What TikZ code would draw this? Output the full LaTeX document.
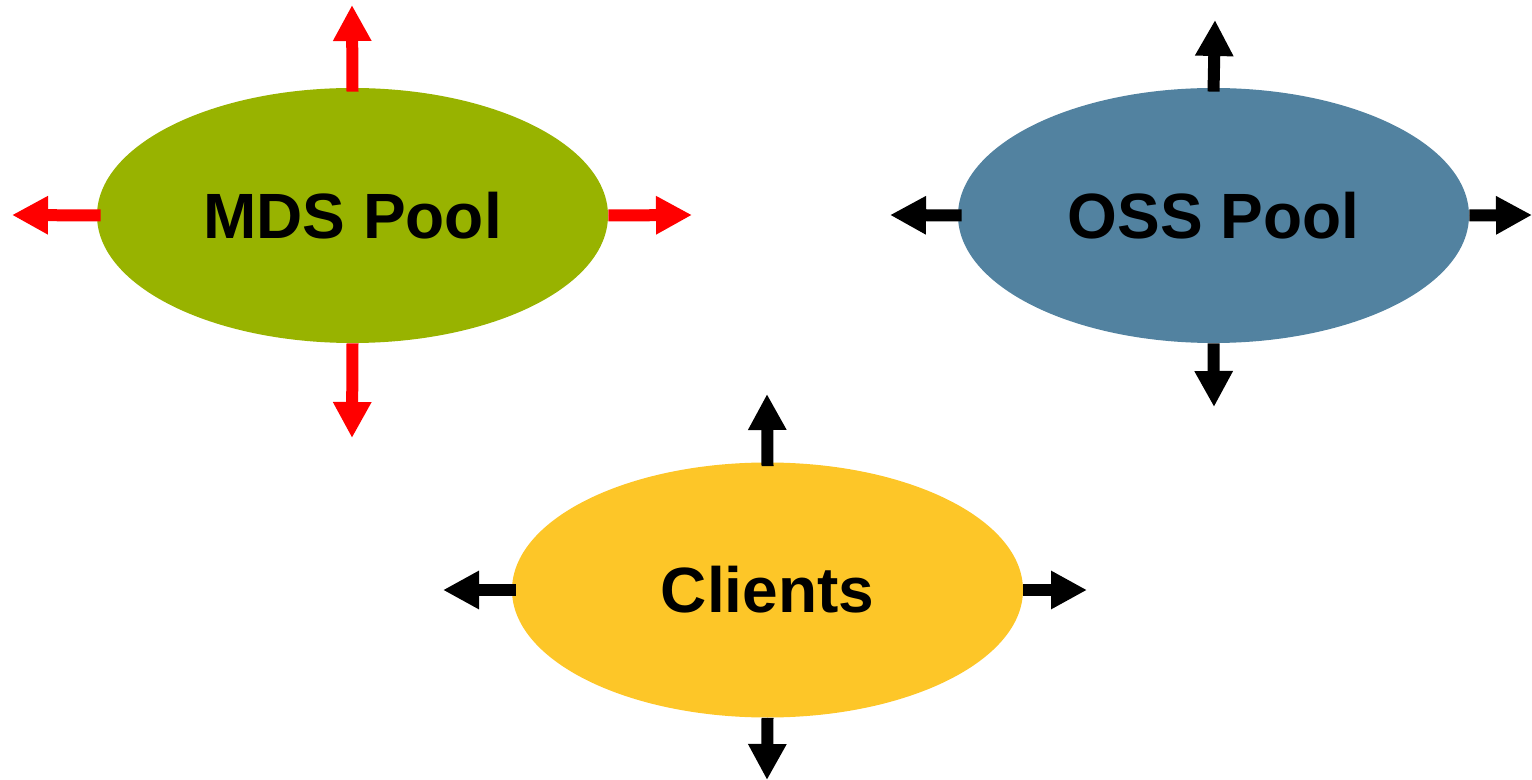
\documentclass[tikz,border=0pt]{standalone}
\usepackage{fontspec}
\setmainfont{Liberation Sans}
\usetikzlibrary{shapes.geometric,arrows.meta}
\definecolor{mdsgreen}{HTML}{98B300}
\definecolor{ossblue}{HTML}{5282A0}
\definecolor{cliyellow}{HTML}{FDC628}
\definecolor{arrred}{HTML}{FF0000}
\tikzset{
  pool/.style={ellipse, minimum width=255.5pt, minimum height=127.5pt, inner sep=0pt,
    font=\fontsize{32}{38}\selectfont\bfseries},
  fatarrow/.style={line width=6pt, -{Triangle[length=18pt,width=18pt]}}
}
\begin{document}
\begin{tikzpicture}[x=0.5pt,y=-0.5pt]
\useasboundingbox (0,0) rectangle (1532,780);
\node[pool, fill=mdsgreen] (mds) at (352.5,215.5) {MDS Pool};
\node[pool, fill=ossblue] (oss) at (1213.5,215.5) {OSS Pool};
\node[pool, fill=cliyellow] (cli) at (767.5,590) {Clients};
\coordinate (mdsN) at (352,5);
\coordinate (mdsW) at (12,215);
\coordinate (mdsE) at (692,215);
\coordinate (mdsS) at (352,438);
\coordinate (ossN) at (1215,20);
\coordinate (ossW) at (890,215);
\coordinate (ossE) at (1532,215);
\coordinate (ossS) at (1214,407);
\coordinate (cliN) at (767,394);
\coordinate (cliW) at (443,590);
\coordinate (cliE) at (1087,590);
\coordinate (cliS) at (767,780);
\draw[fatarrow, arrred] ([yshift=-2pt]mds.north) -- (mdsN);
\draw[fatarrow, arrred] ([xshift=2pt]mds.west) -- (mdsW);
\draw[fatarrow, arrred] (mds.east) -- (mdsE);
\draw[fatarrow, arrred] (mds.south) -- (mdsS);
\draw[fatarrow, black] ([yshift=-2pt]oss.north) -- (ossN);
\draw[fatarrow, black] ([xshift=2pt]oss.west) -- (ossW);
\draw[fatarrow, black] (oss.east) -- (ossE);
\draw[fatarrow, black] (oss.south) -- (ossS);
\draw[fatarrow, black] ([yshift=-2pt]cli.north) -- (cliN);
\draw[fatarrow, black] ([xshift=2pt]cli.west) -- (cliW);
\draw[fatarrow, black] (cli.east) -- (cliE);
\draw[fatarrow, black] (cli.south) -- (cliS);
\end{tikzpicture}
\end{document}
